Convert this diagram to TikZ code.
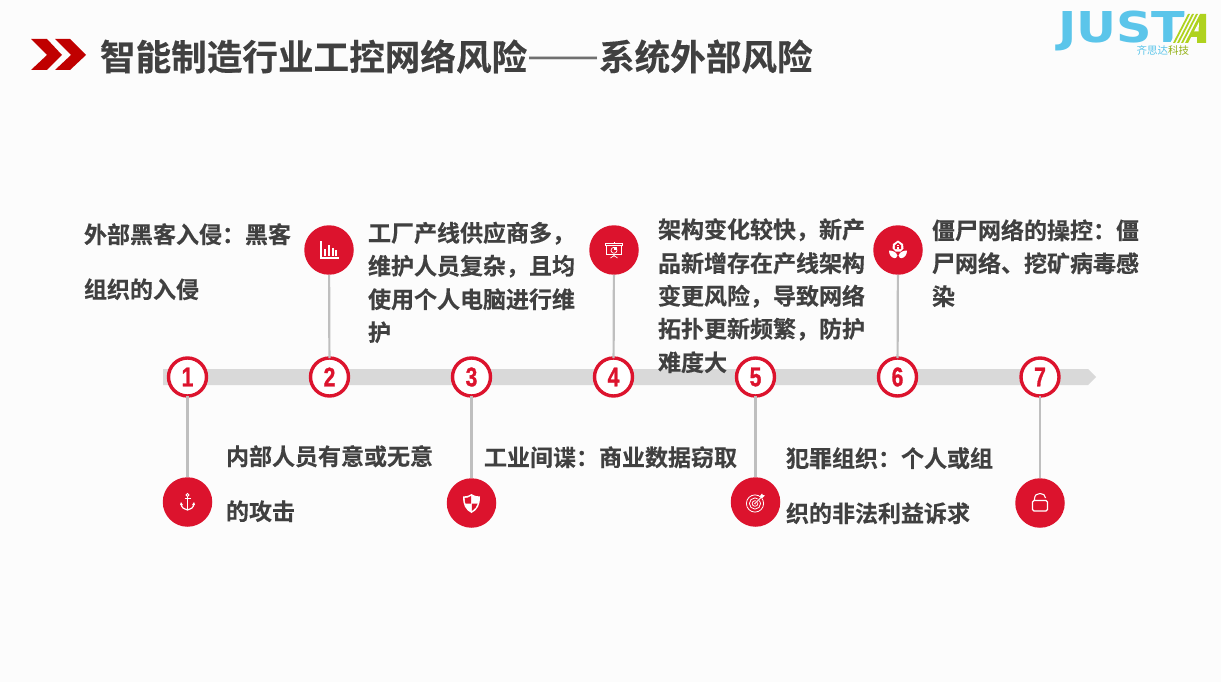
\documentclass[tikz,border=0pt]{standalone}
\usepackage{fontspec}
\setmainfont{Liberation Sans}
\newfontfamily\cjk{Noto Sans CJK SC}
\newfontfamily\cjkb{Noto Sans CJK SC Bold}[FakeBold=0.35]
\newfontfamily\cjkl{Noto Sans CJK SC}
\newfontfamily\logofont{DejaVu Sans Bold}
\newfontfamily\numfont{Liberation Sans Bold}[FakeBold=1.2]
\usetikzlibrary{calc}
\definecolor{bgc}{HTML}{FCFCFC}
\definecolor{redc}{HTML}{DC132D}
\definecolor{darkred}{HTML}{C00000}
\definecolor{txt}{HTML}{404040}
\definecolor{barc}{HTML}{D9D9D9}
\definecolor{linec}{HTML}{BFBFBF}
\definecolor{logob}{HTML}{5BC5EA}
\definecolor{logog}{HTML}{AFD21E}
\tikzset{
  x=1pt,y=-1pt,
  every node/.style={inner sep=0pt,outer sep=0pt},
  titletext/.style={anchor=west,text=txt,font=\cjkb\fontsize{35.6}{36}\selectfont},
  body/.style={anchor=west,text=txt,yshift=-.25pt,font=\cjkb\fontsize{23}{24}\selectfont},
  numdot/.style={circle,draw=redc,line width=3.4pt,fill=white,minimum size=38pt},
  icondot/.style={circle,fill=redc,minimum size=49.5pt},
  stem/.style={draw=linec,line width=2.2pt},
  ic/.style={white,line width=.9pt},
}
\newcommand{\numtxt}[1]{\scalebox{.78}[1]{\textcolor{redc}{\numfont\fontsize{27}{27}\selectfont #1}}}
\begin{document}
\begin{tikzpicture}
\useasboundingbox (0,0) rectangle (1221,682);
\fill[bgc] (0,0) rectangle (1221,682);
% chevrons
\fill[darkred] (31,39) -- (47,39) -- (62,55) -- (47,70) -- (31,70) -- (47,55) -- cycle;
\fill[darkred] (55,39) -- (70,39) -- (86,55) -- (70,70) -- (55,70) -- (71,55) -- cycle;
% title
\node[titletext] (title) at (100,56.5) {智能制造行业工控网络风险};
\node[anchor=center,text=txt!75,font=\cjkl\fontsize{35.6}{36}\selectfont] (titledash) at (563,64) {\resizebox{72pt}{!}{——}};
\node[titletext] (title2) at (599,56.5) {系统外部风险};
% logo
\node[anchor=base west,text=logob,font=\logofont\fontsize{42.5}{43}\selectfont] (logoj) at (1058,43) {\scalebox{1.16}[1]{JUST}};
\fill[bgc] (1170,43.5) -- (1186,13) -- (1208,13) -- (1208,43.5) -- cycle;
\fill[logog] (1185,43) -- (1200,14) -- (1206,14) -- (1206,43) -- (1197,43) -- (1197,37) -- (1191,37) -- (1188,43) -- cycle;
\fill[bgc] (1199,22) -- (1198.5,31.5) -- (1194,31.5) -- cycle;
\fill[logog] (1173,43) -- (1188,14) -- (1190,14) -- (1175,43) -- cycle;
\fill[logog] (1177,43) -- (1192,14) -- (1194,14) -- (1179,43) -- cycle;
\fill[logog] (1181,43) -- (1196,14) -- (1198,14) -- (1183,43) -- cycle;
\node[anchor=west,font=\cjk\fontsize{10.5}{11}\selectfont] (logot) at (1136.5,50.5) {\textcolor{logob}{齐思达}\textcolor{logog!85!black}{科技}};
% bar
\fill[barc] (163,369) -- (1088,369) -- (1096,377) -- (1088,385) -- (163,385) -- cycle;
% number dots
\foreach \i/\x in {1/187.5,2/329.5,3/471.5,4/613.5,5/755.5,6/897.5,7/1040}{
  \node[numdot] (n\i) at (\x,377) {};
}
% icon dots
\node[icondot] (i1) at (187.5,502) {};
\node[icondot] (i2) at (329,250) {};
\node[icondot] (i3) at (471.5,503) {};
\node[icondot] (i4) at (614,250) {};
\node[icondot] (i5) at (755.5,502) {};
\node[icondot] (i6) at (898,250) {};
\node[icondot] (i7) at (1040,503) {};
% connectors
\foreach \i in {1,...,7}{ \draw[stem] (n\i) -- (i\i); }
\foreach \i in {1,...,7}{ \node at (n\i) {\numtxt{\i}}; }
% icon 1 anchor
\begin{scope}[shift={(i1)},ic]
\draw (0,-7) circle (1.6);
\draw[line width=1.2pt] (0,-5) -- (0,8);
\draw (-3,-3.5) -- (3,-3.5);
\draw[line width=1.2pt] (-6.5,1.5) .. controls (-6,6) and (-3,7.5) .. (0,8) .. controls (3,7.5) and (6,6) .. (6.5,1.5);
\fill (-7.5,3) -- (-6.5,0) -- (-4.5,3) -- cycle;
\fill (7.5,3) -- (6.5,0) -- (4.5,3) -- cycle;
\end{scope}
% icon 2 chart
\begin{scope}[shift={(i2)},ic]
\draw[line width=1.2pt] (-8,-9) -- (-8,8) -- (9.5,8);
\fill (-5.5,-1) rectangle (-3,5.5);
\fill (-1.5,-5) rectangle (1,5.5);
\fill (2.5,-2) rectangle (5,5.5);
\fill (6,0) rectangle (8,5.5);
\end{scope}
% icon 3 shield
\begin{scope}[shift={(i3)},ic]
\fill (0,-9) .. controls (3,-7) and (6,-6.5) .. (8.5,-6.5) .. controls (8.5,2) and (6,7) .. (0,10) .. controls (-6,7) and (-8.5,2) .. (-8.5,-6.5) .. controls (-6,-6.5) and (-3,-7) .. (0,-9) -- cycle;
\fill[redc] (-.3,-7) .. controls (-2,-5.6) and (-4.5,-5) .. (-6.8,-5) .. controls (-6.8,-2) and (-6.5,-1) .. (-6,0.5) -- (-.3,0.5) -- cycle;
\fill[redc] (.3,0.5) -- (6.2,0.5) .. controls (5.5,3.5) and (3,6.5) .. (.3,8) -- cycle;
\end{scope}
% icon 4 projector
\begin{scope}[shift={(i4)},ic,line width=.7pt]
\draw (-8.5,-7) rectangle (8.5,-5);
\draw (-7.5,-5) rectangle (7.5,4.5);
\draw (0,.3) circle (3);
\fill (0,-2.9) -- (3.4,-2.9) -- (3.4,.2) -- (0,.2) -- cycle;
\draw (0,-8.5) -- (0,-7);
\draw (0,4.5) -- (0,6.5) (0,5.5) -- (-3.5,8) (0,5.5) -- (3.5,8);
\end{scope}
% icon 5 target
\begin{scope}[shift={(i5)},ic,line width=.8pt]
\draw (-.5,1.5) circle (8.6);
\draw (-.5,1.5) circle (5.6);
\draw (-.5,1.5) circle (2.8);
\fill (-.5,1.5) circle (1);
\draw[redc,line width=1.8pt] (-.5,1.5) -- (7,-6);
\draw (-.5,1.5) -- (6,-5);
\fill (4.5,-6) -- (6.5,-8.5) -- (7.3,-7) -- (9.3,-6.5) -- (6.8,-4) -- (5.2,-4) -- cycle;
\end{scope}
% icon 6 house leaf
\begin{scope}[shift={(i6)},ic]
\fill (0,-9.5) -- (5,-6) -- (5.5,-1.5) -- (2.5,1.5) -- (-2.5,1.5) -- (-5.5,-1.5) -- (-5,-6) -- cycle;
\fill[redc] (0,-7.3) -- (3.2,-4.6) -- (3.2,-.8) -- (-3.2,-.8) -- (-3.2,-4.6) -- cycle;
\fill (-1.4,-4.6) rectangle (1.4,-.8);
\fill[redc] (-.8,-4) rectangle (-.1,-2.8);
\fill[redc] (.3,-4) rectangle (1,-2.8);
\fill (-9,.5) .. controls (-6.5,.5) and (-1.5,1.5) .. (-.6,5.5) .. controls (-.8,7.5) and (-2.5,8.2) .. (-3.5,8.2) .. controls (-7,7.5) and (-9,4.5) .. (-9,.5) -- cycle;
\fill (9,.5) .. controls (6.5,.5) and (1.5,1.5) .. (.6,5.5) .. controls (.8,7.5) and (2.5,8.2) .. (3.5,8.2) .. controls (7,7.5) and (9,4.5) .. (9,.5) -- cycle;
\end{scope}
% icon 7 lock
\begin{scope}[shift={(i7)},ic,line width=1.1pt]
\draw[rounded corners=1.5pt] (-7.5,-2.5) rectangle (7.5,8);
\draw (-5.5,-2.5) -- (-5.5,-4) .. controls (-5.5,-8) and (-3,-9.5) .. (0,-9.5) .. controls (3,-9.5) and (5.5,-8) .. (5.5,-5);
\end{scope}
% texts
\node[body] (t1a) at (84,234) {外部黑客入侵：黑客};
\node[body] (t1b) at (84,289) {组织的入侵};
\node[body] (t2a) at (368,233) {工厂产线供应商多，};
\node[body] (t2b) at (368,266) {维护人员复杂，且均};
\node[body] (t2c) at (368,299) {使用个人电脑进行维};
\node[body] (t2d) at (368,332) {护};
\node[body] (t3a) at (658,229.5) {架构变化较快，新产};
\node[body] (t3b) at (658,263) {品新增存在产线架构};
\node[body] (t3c) at (658,296) {变更风险，导致网络};
\node[body] (t3d) at (658,329) {拓扑更新频繁，防护};
\node[body] (t3e) at (658,362) {难度大};
\node[body] (t4a) at (932,230) {僵尸网络的操控：僵};
\node[body] (t4b) at (932,263) {尸网络、挖矿病毒感};
\node[body] (t4c) at (932,296) {染};
\node[body] (t5a) at (226,456) {内部人员有意或无意};
\node[body] (t5b) at (226,511) {的攻击};
\node[body] (t6a) at (484,457) {工业间谍：商业数据窃取};
\node[body] (t7a) at (786,458) {犯罪组织：个人或组};
\node[body] (t7b) at (786,513) {织的非法利益诉求};
\end{tikzpicture}
\end{document}
